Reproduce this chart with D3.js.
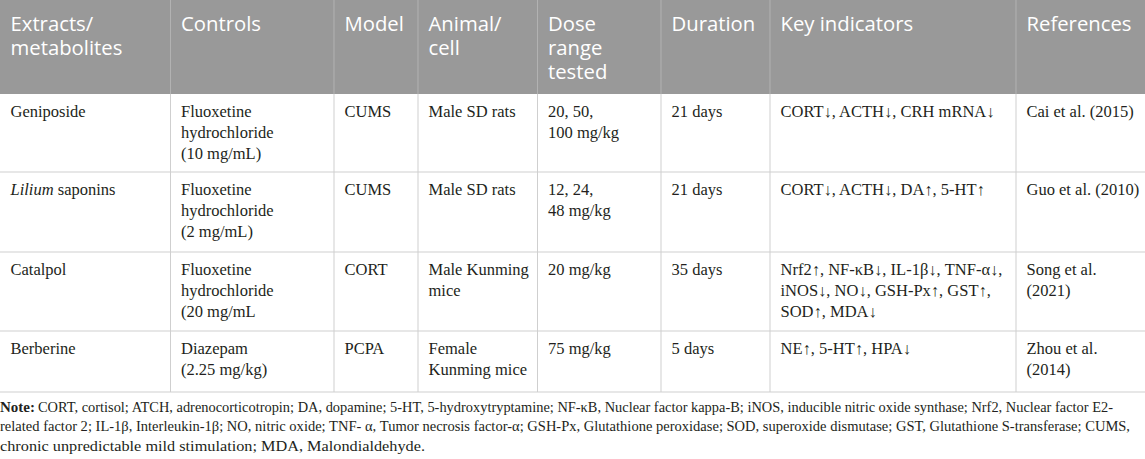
<!DOCTYPE html>
<html>
<head>
<meta charset="utf-8">
<script src="https://cdn.jsdelivr.net/npm/d3@7"></script>
<style>
  html, body { margin: 0; padding: 0; background: #fff; }
  svg { display: block; }
</style>
</head>
<body>
<div id="table"></div>
<script>
// header labels, one entry per column, already broken into lines
const headers = [
  ["Extracts/", "metabolites"],
  ["Controls"],
  ["Model"],
  ["Animal/", "cell"],
  ["Dose", "range", "tested"],
  ["Duration"],
  ["Key indicators"],
  ["References"]
];

// body cells, *word* = italic
const extracts = [["Geniposide"], ["*Lilium* saponins"], ["Catalpol"], ["Berberine"]];
const controls = [
  ["Fluoxetine", "hydrochloride", "(10 mg/mL)"],
  ["Fluoxetine", "hydrochloride", "(2 mg/mL)"],
  ["Fluoxetine", "hydrochloride", "(20 mg/mL"],
  ["Diazepam", "(2.25 mg/kg)"]
];
const models = [["CUMS"], ["CUMS"], ["CORT"], ["PCPA"]];
const animals = [["Male SD rats"], ["Male SD rats"], ["Male Kunming", "mice"], ["Female", "Kunming mice"]];
const doses = [["20, 50,", "100 mg/kg"], ["12, 24,", "48 mg/kg"], ["20 mg/kg"], ["75 mg/kg"]];
const durations = [["21 days"], ["21 days"], ["35 days"], ["5 days"]];
const indicators = [
  ["CORT↓, ACTH↓, CRH mRNA↓"],
  ["CORT↓, ACTH↓, DA↑, 5-HT↑"],
  ["Nrf2↑, NF-κB↓, IL-1β↓, TNF-α↓,", "iNOS↓, NO↓, GSH-Px↑, GST↑,", "SOD↑, MDA↓"],
  ["NE↑, 5-HT↑, HPA↓"]
];
const references = [["Cai et al. (2015)"], ["Guo et al. (2010)"], ["Song et al.", "(2021)"], ["Zhou et al.", "(2014)"]];

const noteLabel = "Note:";
const noteLines = [
  "CORT, cortisol; ATCH, adrenocorticotropin; DA, dopamine; 5-HT, 5-hydroxytryptamine; NF-κB, Nuclear factor kappa-B; iNOS, inducible nitric oxide synthase; Nrf2, Nuclear factor E2-",
  "related factor 2; IL-1β, Interleukin-1β; NO, nitric oxide; TNF- α, Tumor necrosis factor-α; GSH-Px, Glutathione peroxidase; SOD, superoxide dismutase; GST, Glutathione S-transferase; CUMS,",
  "chronic unpredictable mild stimulation; MDA, Malondialdehyde."
];

// layout
const width = 1145;
const height = 459;
const colWidths = [170.5, 163.5, 84, 119.5, 123.5, 109, 246, 129];
const headerHeight = 94;
const rowHeights = [78, 80, 79, 61];
const pad = 10.5;

const headerBg = "#999999";
const gridColor = "#cfcfcf";
const textColor = "#231f20";

const columns = [extracts, controls, models, animals, doses, durations, indicators, references];
const colX = [0, ...d3.cumsum(colWidths)];
const rowY = [headerHeight, ...d3.cumsum(rowHeights).map(v => v + headerHeight)];
const tableBottom = rowY[rowY.length - 1];

const svg = d3.select("#table")
  .append("svg")
  .attr("width", width)
  .attr("height", height);

// header band
svg.append("rect")
  .attr("x", 0).attr("y", 0)
  .attr("width", width).attr("height", headerHeight)
  .attr("fill", headerBg);

svg.append("g")
  .selectAll("line")
  .data(colX.slice(1, -1))
  .join("line")
  .attr("x1", d => d).attr("x2", d => d)
  .attr("y1", 0).attr("y2", headerHeight)
  .attr("stroke", "#b2b2b2")
  .attr("stroke-width", 1);

const headerText = svg.append("g")
  .attr("font-family", "'Open Sans', sans-serif")
  .attr("font-size", 20.3)
  .attr("fill", "#ffffff");

headers.forEach((lines, c) => {
  headerText.append("text")
    .attr("x", colX[c] + pad)
    .attr("y", 31)
    .selectAll("tspan")
    .data(lines)
    .join("tspan")
    .attr("x", colX[c] + pad)
    .attr("dy", (d, i) => i === 0 ? 0 : 23.8)
    .text(d => d);
});

// body grid
const grid = svg.append("g")
  .attr("stroke", gridColor)
  .attr("stroke-width", 1);

grid.selectAll("line.h")
  .data(rowY.slice(1))
  .join("line")
  .attr("class", "h")
  .attr("x1", 0).attr("x2", width)
  .attr("y1", d => d).attr("y2", d => d);

grid.selectAll("line.v")
  .data(colX.slice(1, -1))
  .join("line")
  .attr("class", "v")
  .attr("x1", d => d).attr("x2", d => d)
  .attr("y1", headerHeight).attr("y2", tableBottom);

// body text
const body = svg.append("g")
  .attr("font-family", "'Liberation Serif', 'Times New Roman', serif")
  .attr("font-size", 16.5)
  .attr("fill", textColor);

const addLine = (sel, line) => {
  line.split(/(\*[^*]+\*)/).filter(s => s.length).forEach(part => {
    const italic = part.startsWith("*");
    sel.append("tspan")
      .attr("font-style", italic ? "italic" : null)
      .text(italic ? part.slice(1, -1) : part);
  });
};

columns.forEach((col, c) => {
  col.forEach((lines, r) => {
    lines.forEach((line, i) => {
      const t = body.append("text")
        .attr("x", colX[c] + pad)
        .attr("y", rowY[r] + 22.5 + i * 21.2)
        .attr("xml:space", "preserve");
      addLine(t, line);
    });
  });
});

// footnote: condensed serif, each line fitted to the width it takes in the reference
const sx = 0.84;
const noteEnds = [1113, 1130, 425];
const labelWidth = 35;
const note = svg.append("g")
  .attr("transform", `scale(${sx},1)`)
  .attr("font-family", "'Liberation Serif', serif")
  .attr("font-size", 15)
  .attr("fill", textColor);

noteLines.forEach((line, i) => {
  const y = tableBottom + 20 + i * 19.5;
  if (i === 0) {
    note.append("text")
      .attr("x", 0).attr("y", y)
      .attr("font-weight", "bold")
      .attr("textLength", labelWidth / sx)
      .attr("lengthAdjust", "spacingAndGlyphs")
      .text(noteLabel);
  }
  const x0 = i === 0 ? labelWidth + 3 : 0;
  note.append("text")
    .attr("x", x0 / sx).attr("y", y)
    .attr("textLength", (noteEnds[i] - x0) / sx)
    .attr("lengthAdjust", "spacingAndGlyphs")
    .text(line);
});
</script>
</body>
</html>
